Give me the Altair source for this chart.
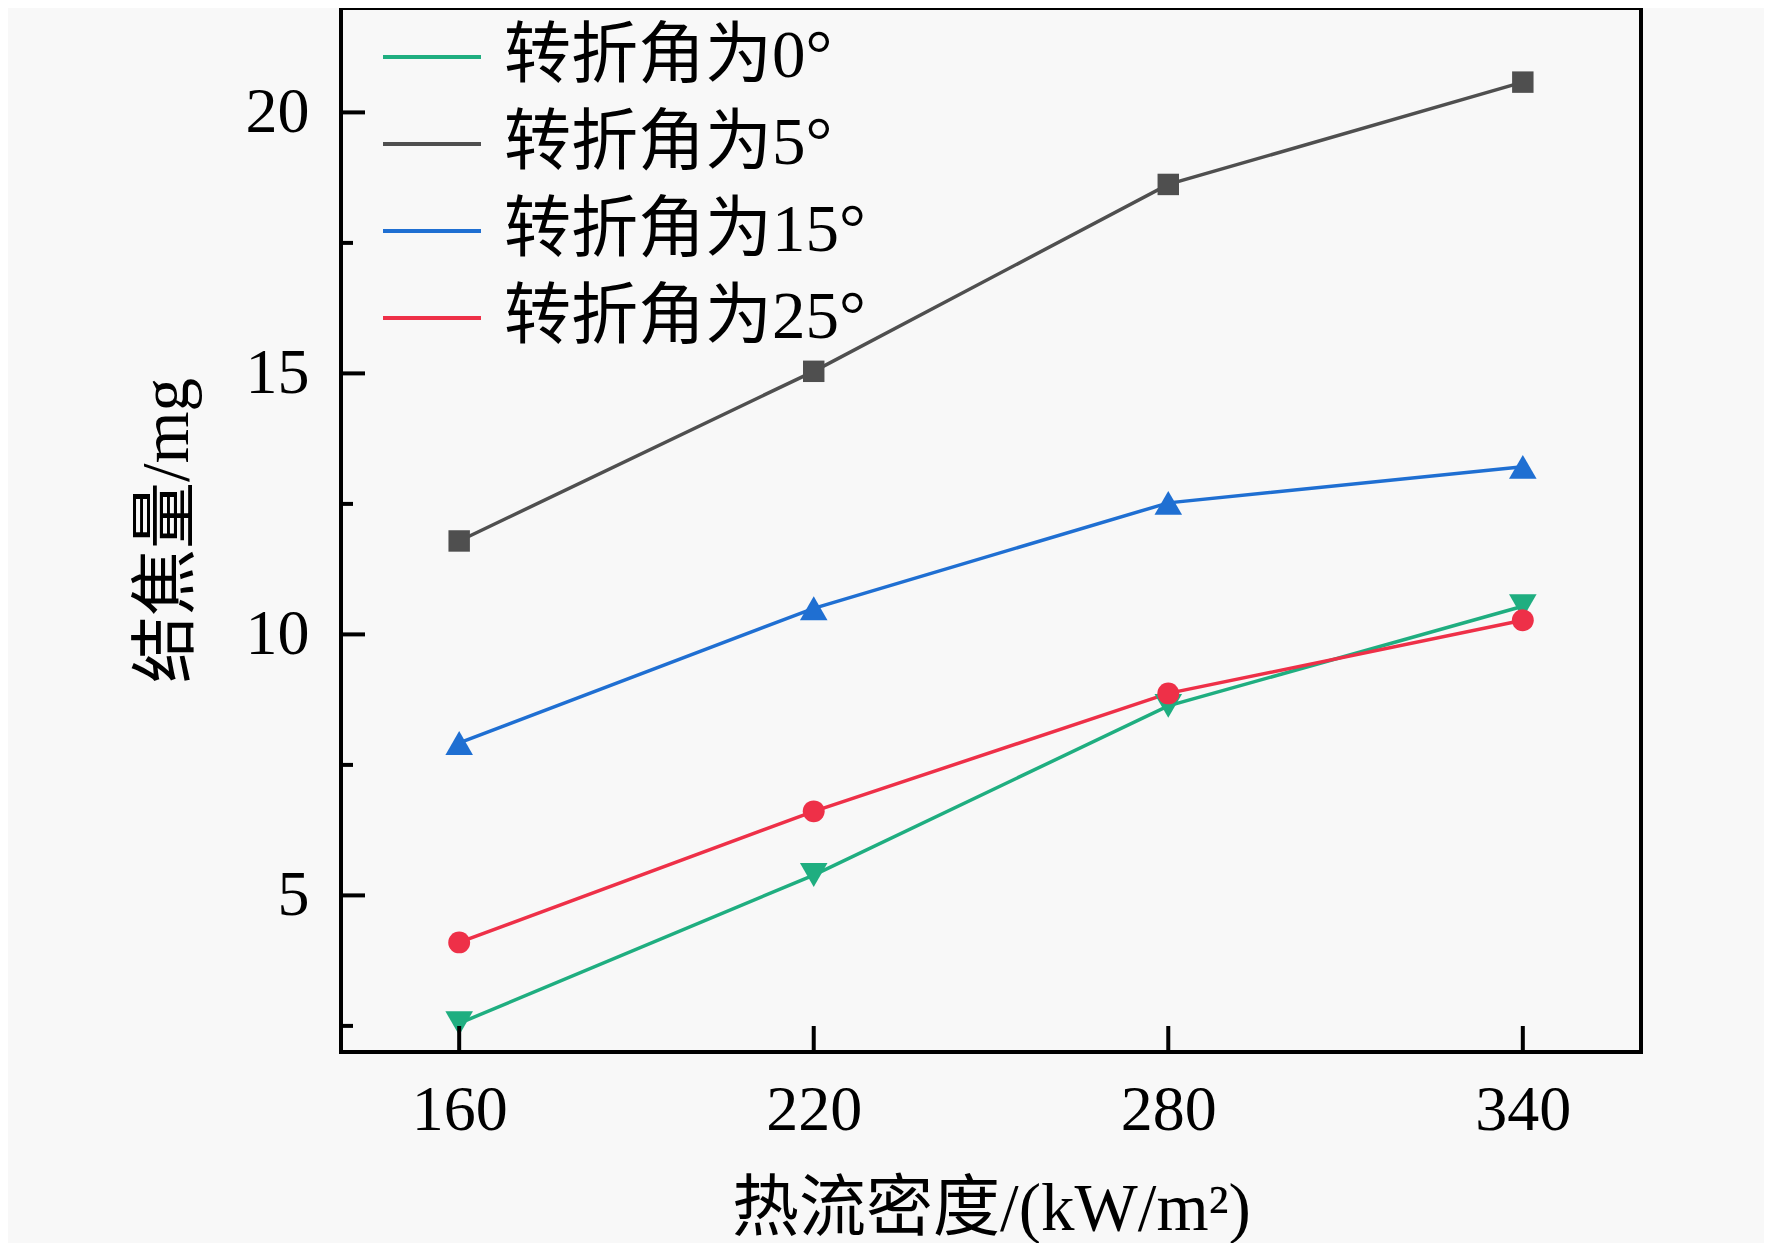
import altair as alt
import pandas as pd

heat_flux = [160, 220, 280, 340]
series_names = ["转折角为0°", "转折角为5°", "转折角为15°", "转折角为25°"]
angle0 = [2.55, 5.39, 8.63, 10.54]
angle5 = [11.79, 15.04, 18.62, 20.58]
angle15 = [7.92, 10.50, 12.52, 13.21]
angle25 = [4.10, 6.61, 8.87, 10.27]
colors = ["#1fae80", "#4f4f4f", "#1f6fd2", "#ee3048"]
shapes = ["triangle-down", "square", "triangle-up", "circle"]
marker_sizes = [760, 460, 760, 480]
x_ticks = [160, 220, 280, 340]
y_major = [5, 10, 15, 20]
y_minor = [2.5, 7.5, 12.5, 17.5]

rows = []
for name, vals, ms in zip(series_names, [angle0, angle5, angle15, angle25], marker_sizes):
    for x, v in zip(heat_flux, vals):
        rows.append({"series": name, "flux": x, "coke": v, "msize": ms})
df = pd.DataFrame(rows)

W, H = 1300, 1044
FONT = "Liberation Serif, Times New Roman, Noto Sans CJK SC"

xscale = alt.Scale(domain=[140, 360], nice=False, zero=False)
yscale = alt.Scale(domain=[2, 22], nice=False, zero=False)
cscale = alt.Scale(domain=series_names, range=colors)
sscale = alt.Scale(domain=series_names, range=shapes)

lines = alt.Chart(df).mark_line(strokeWidth=3.5).encode(
    x=alt.X("flux:Q", scale=xscale,
            axis=alt.Axis(values=x_ticks, title="热流密度/(kW/m²)", grid=False, ticks=False,
                          domain=False, labelFontSize=64, titleFontSize=67, labelPadding=26,
                          titlePadding=34, labelFont=FONT, titleFont=FONT, labelColor="black",
                          titleColor="black", titleFontWeight="normal")),
    y=alt.Y("coke:Q", scale=yscale,
            axis=alt.Axis(values=y_major, title="结焦量/mg", grid=False, ticks=False,
                          domain=False, labelFontSize=64, titleFontSize=67, labelPadding=32,
                          titlePadding=44, labelFont=FONT, titleFont=FONT, labelColor="black",
                          titleColor="black", titleFontWeight="normal")),
    color=alt.Color("series:N", scale=cscale, sort=series_names,
                    legend=alt.Legend(title=None, orient="none", legendX=40, legendY=-2,
                                      symbolType="stroke", symbolSize=9600, symbolStrokeWidth=4,
                                      labelFontSize=67, labelFont=FONT, labelColor="black",
                                      rowPadding=3, labelOffset=21, labelLimit=600)),
)

points = alt.Chart(df).mark_point(filled=True, opacity=1).encode(
    x=alt.X("flux:Q", scale=xscale),
    y=alt.Y("coke:Q", scale=yscale),
    color=alt.Color("series:N", scale=cscale, legend=None),
    shape=alt.Shape("series:N", scale=sscale, legend=None),
    size=alt.Size("msize:Q", scale=None, legend=None),
)

xt = pd.DataFrame({"t": x_ticks})
yt = pd.DataFrame({"t": y_major})
ym = pd.DataFrame({"t": y_minor})

xtick_rules = alt.Chart(xt).mark_rule(color="black", strokeWidth=4).encode(
    x=alt.X("t:Q", scale=xscale), y=alt.value(H), y2=alt.value(H - 26))
ytick_rules = alt.Chart(yt).mark_rule(color="black", strokeWidth=4).encode(
    y=alt.Y("t:Q", scale=yscale), x=alt.value(0), x2=alt.value(24))
yminor_rules = alt.Chart(ym).mark_rule(color="black", strokeWidth=4).encode(
    y=alt.Y("t:Q", scale=yscale), x=alt.value(0), x2=alt.value(12))

chart = alt.layer(lines, points, xtick_rules, ytick_rules, yminor_rules).resolve_scale(
    color="shared", shape="independent"
).properties(
    width=W, height=H,
    autosize=alt.AutoSizeParams(type="none"),
    padding={"left": 333, "top": 0, "right": 123, "bottom": 191},
    background="#f8f8f8",
).configure_view(stroke="black", strokeWidth=4)

chart.save("out.html", embed_options={"renderer": "svg", "actions": False})
